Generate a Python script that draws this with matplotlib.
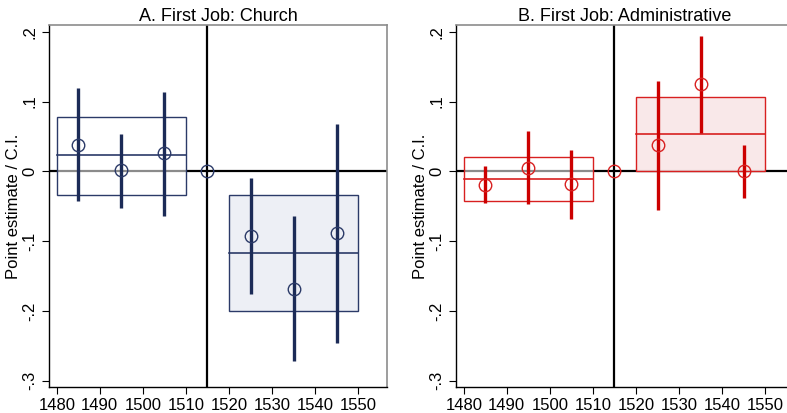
import matplotlib
matplotlib.use("Agg")
import matplotlib.pyplot as plt
from matplotlib.patches import Rectangle

plt.rcParams['font.family'] = ['Liberation Sans', 'DejaVu Sans']

# cohort (birth decade) midpoints
years = [1485, 1495, 1505, 1515, 1525, 1535, 1545]

# Panel A: first job church
church_est = [0.038, 0.002, 0.026, 0.0, -0.092, -0.168, -0.089]
church_lo = [-0.043, -0.052, -0.064, None, -0.176, -0.272, -0.246]
church_hi = [0.119, 0.053, 0.114, None, -0.010, -0.064, 0.068]
church_pre = (0.023, -0.034, 0.078)    # mean, lower, upper
church_post = (-0.117, -0.200, -0.034)

# Panel B: first job administrative
admin_est = [-0.019, 0.005, -0.018, 0.0, 0.037, 0.125, 0.0]
admin_lo = [-0.046, -0.047, -0.068, None, -0.056, 0.055, -0.038]
admin_hi = [0.008, 0.058, 0.030, None, 0.129, 0.194, 0.038]
admin_pre = (-0.011, -0.0425, 0.0205)
admin_post = (0.054, 0.001, 0.107)

xticks = [1480, 1490, 1500, 1510, 1520, 1530, 1540, 1550]
yticks = [-0.3, -0.2, -0.1, 0.0, 0.1, 0.2]
ytick_labels = ['-.3', '-.2', '-.1', '0', '.1', '.2']

fig = plt.figure(figsize=(7.87, 4.13), dpi=100)
W, H = 787, 413


def panel(rect, title, est, lo, hi, pre, post, col, edge, tint):
    ax = fig.add_axes(rect)
    ax.set_xlim(1478.2, 1556.7)
    ax.set_ylim(-0.309, 0.2096)

    ax.axhline(0, color='black', lw=1.6, zorder=1)
    ax.axvline(1515, color='black', lw=1.6, zorder=1)

    # pre / post period mean with CI box
    for (mean, low, high), x0, face, a in [(pre, 1480, 'white', 0.55),
                                            (post, 1520, tint, 0.9)]:
        ax.add_patch(Rectangle((x0, low), 30, high - low, facecolor=face,
                               alpha=a, edgecolor='none', zorder=2))
        ax.add_patch(Rectangle((x0, low), 30, high - low, facecolor='none',
                               edgecolor=edge, lw=1.0, zorder=3))
        ax.plot([x0, x0 + 30], [mean, mean], color=edge, lw=1.2, zorder=3)

    for x, l, h in zip(years, lo, hi):
        if l is None:
            continue
        ax.plot([x, x], [l, h], color=col, lw=2.4, solid_capstyle='butt', zorder=4)
    ax.plot(years, est, 'o', ms=9, mfc='none', mec=edge, mew=1.0, zorder=5)

    ax.set_xticks(xticks)
    ax.set_yticks(yticks)
    ax.set_yticklabels(ytick_labels, rotation=90, va='center')
    ax.tick_params(direction='out', length=5, width=0.8, labelsize=12,
                   color='black')
    ax.tick_params(axis='x', pad=3)
    for s in ['top', 'right']:
        ax.spines[s].set_color('#8c8c8c')
        ax.spines[s].set_linewidth(1.2)
    for s in ['left', 'bottom']:
        ax.spines[s].set_color('black')
        ax.spines[s].set_linewidth(1.0)
    ax.set_ylabel('Point estimate / C.I.', fontsize=12, labelpad=1)
    ax.set_title(title, fontsize=13, pad=3)
    return ax


ax_w = 338 / W
ax_h = 362 / H
panel([49 / W, 1 - 387 / H, ax_w, ax_h], 'A. First Job: Church',
      church_est, church_lo, church_hi, church_pre, church_post,
      '#1c2b57', '#2b3a68', '#eceef4')
panel([456 / W, 1 - 387 / H, ax_w, ax_h], 'B. First Job: Administrative',
      admin_est, admin_lo, admin_hi, admin_pre, admin_post,
      '#cc0000', '#d82020', '#f9e6e7')

fig.savefig('out.png', dpi=100)
